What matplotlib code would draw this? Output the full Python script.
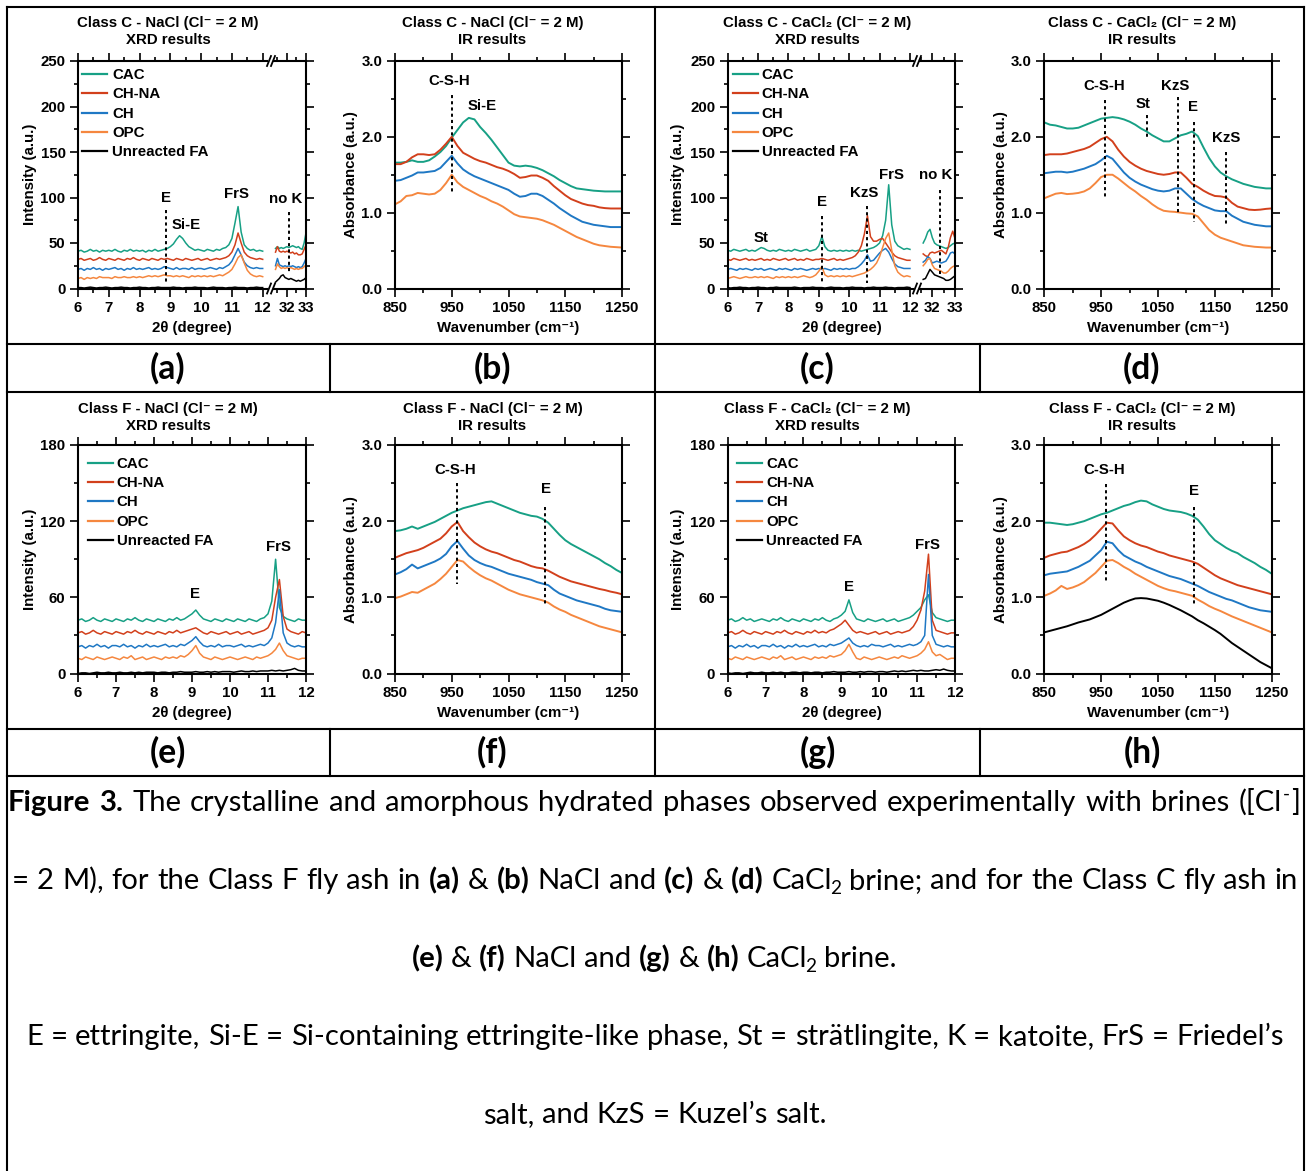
import numpy as np
import matplotlib
matplotlib.use('Agg')
import matplotlib.pyplot as plt
from matplotlib.lines import Line2D
from matplotlib.ticker import MultipleLocator, FormatStrFormatter

# ======================= DATA =======================
SERIES = ['CAC', 'CH-NA', 'CH', 'OPC', 'Unreacted FA']
COLORS = {'CAC': '#17a085', 'CH-NA': '#d2401c', 'CH': '#1f78c4',
          'OPC': '#f5873f', 'Unreacted FA': '#000000'}

XRD_X = np.round(np.linspace(6.0, 12.0, 61), 2)
XRD_XR_A = np.round(np.linspace(31.4, 33.0, 17), 2)
XRD_XR_C = np.round(np.linspace(31.6, 33.0, 15), 2)
IR_X = np.arange(850, 1251, 10)

# (a) Class C - NaCl XRD
A_CAC = [41,42,40,41,43,41,42,40,42,41, 42,41,43,41,40,42,41,43,41,42,
         41,42,40,42,41,43,41,42,43,44, 46,49,54,58,55,50,46,44,42,43,
         42,41,43,42,41,43,42,44,45,48, 55,72,90,62,48,44,42,43,41,42, 41]
A_CHNA = [32,33,31,32,33,31,32,34,32,31, 33,32,31,33,32,31,33,32,34,32,
          31,33,32,31,33,32,31,33,32,33, 32,31,33,32,31,33,32,31,32,33,
          31,32,33,31,32,33,32,33,34,36, 40,48,61,50,40,36,34,33,32,33, 32]
A_CH = [21,22,20,22,21,23,21,22,20,22, 21,22,23,21,22,20,22,21,23,21,
        22,21,22,23,21,22,21,22,24,23, 22,21,23,21,22,22,21,23,21,22,
        22,21,22,23,22,21,23,22,24,26, 30,37,44,37,29,25,23,22,23,22, 22]
A_OPC = [11,12,10,12,11,12,11,13,12,12, 12,11,13,12,12,13,12,12,13,12,
         13,12,13,14,13,14,13,14,15,14, 14,13,14,13,14,13,12,14,13,14,
         13,14,13,14,13,14,15,14,16,18, 21,27,34,37,28,20,16,14,13,14, 13]
A_FA = [1,1,0.5,1,1.5,1,0.5,1,1,1.5, 1,0.5,1,1,1.5,1,1,0.5,1,1,
        1.5,1,1,0.5,1,1,1.5,1,1,1, 1,1.5,1,1,0.5,1,1,1,1.5,1,
        1,1,0.5,1,1.5,1,1,1,0.5,1, 1,1.5,1,1,1,0.5,1,1,1.5,1, 1]
AR_CAC = [44,46,44,45,44,45,46,45,46,47,46,45,46,44,43,50,61]
AR_CHNA = [40,46,41,40,41,40,41,40,39,40,38,39,37,37,38,43,48]
AR_CH = [25,33,26,25,24,25,24,25,24,25,24,23,24,23,24,28,33]
AR_OPC = [21,27,24,22,23,22,23,22,23,22,21,22,21,22,22,24,26]
AR_FA = [7,9,11,14,15,12,11,10,11,10,9,8,9,8,9,10,12]

# (c) Class C - CaCl2 XRD
C_CAC = [42,41,43,42,41,42,43,41,42,41, 43,45,44,42,41,42,41,43,42,41,
         42,41,43,42,41,42,43,41,42,43, 47,57,46,42,41,42,41,42,41,42,
         41,42,41,42,41,42,43,44,45,47, 50,58,75,114,70,52,47,45,43,44, 43]
C_CHNA = [32,31,33,32,31,32,33,31,32,31, 32,33,31,32,31,33,32,31,32,33,
          31,32,33,31,32,31,33,32,31,32, 32,33,32,31,32,33,31,32,31,32,
          33,34,36,40,47,60,80,57,52,52, 54,55,50,45,40,36,34,33,32,31, 31]
C_CH = [21,22,21,20,22,21,22,21,20,22, 21,22,20,21,22,21,20,22,21,22,
        21,20,22,21,22,21,20,21,22,21, 22,21,22,21,20,22,21,22,21,22,
        21,22,22,24,27,31,37,30,31,35, 39,42,44,40,33,27,24,23,22,22, 22]
C_OPC = [11,12,13,12,11,12,13,12,12,13, 12,13,12,13,12,11,13,12,13,12,
         13,12,13,12,13,14,13,12,13,15, 19,24,15,13,14,13,14,13,14,13,
         14,13,14,15,16,17,19,21,24,28, 35,45,55,61,42,25,18,15,13,14, 13]
C_FA = [1,0.5,1,1,1.5,1,1,0.5,1,1, 1.5,1,1,0.5,1,1,1.5,1,1,1,
        1,1,1.5,1,0.5,1,1,1,1.5,1, 1,1,0.5,1,1.5,1,1,1,0.5,1,
        1,1.5,1,1,1,0.5,1,1,1.5,1, 1,1,1.5,1,1,0.5,1,1,1,1.5, 1]
CR_CAC = [50,55,62,65,56,50,48,47,46,45,44,45,47,49,50]
CR_CHNA = [38,36,35,39,40,39,40,41,42,40,38,45,56,63,55]
CR_CH = [29,31,35,33,28,29,30,29,28,29,30,34,39,40,38]
CR_OPC = [25,28,32,33,26,22,21,20,19,17,17,19,22,24,25]
CR_FA = [10,11,16,21,18,15,14,13,12,11,9,9,10,12,14]

# (e) Class F - NaCl XRD
E_CAC = [42,43,41,42,44,42,41,43,42,41, 43,42,41,43,42,44,42,41,43,42,
         41,43,42,41,43,42,44,42,43,45, 47,50,46,43,42,41,43,42,41,43,
         42,41,43,42,41,43,42,41,43,44, 47,57,90,52,45,43,42,41,43,42, 42]
E_CHNA = [32,33,31,32,34,32,31,33,32,31, 33,32,31,33,32,34,32,31,33,32,
          31,33,32,31,33,32,34,32,33,34, 35,36,34,32,31,33,32,31,32,33,
          31,32,33,31,32,33,31,32,33,34, 36,42,60,74,45,35,33,32,31,33, 32]
E_CH = [21,22,20,22,21,23,21,22,20,22, 22,21,23,21,22,20,22,21,23,21,
        22,21,22,23,21,22,21,23,22,24, 26,29,25,22,21,22,21,23,21,22,
        22,21,22,23,21,22,21,22,23,22, 24,28,40,66,32,24,22,21,22,21, 21]
E_OPC = [12,11,13,12,11,13,12,11,12,13, 12,11,13,12,14,11,12,13,11,12,
         13,12,11,13,12,13,12,14,13,15, 18,22,16,13,12,11,13,12,11,12,
         13,12,11,12,13,12,11,13,12,13, 14,16,19,24,18,14,13,12,11,12, 12]
E_FA = [0,0.5,0.5,0,0.5,1,0.5,0.5,1,0.5, 0.5,1,0.5,0.5,1,0.5,1,0.5,1,1,
        1,0.5,1,1,0.5,1,1,1.5,1,1, 1,1.5,1,1,1.5,1,1.5,1,1.5,1.5,
        1.5,1,1.5,2,1.5,1.5,2,1.5,2,2, 2,2.5,2,2.5,2,2.5,3,4,2.5,2, 2]

# (g) Class F - CaCl2 XRD
G_CAC = [42,43,41,42,44,42,43,41,42,43, 42,41,43,42,44,42,41,43,42,41,
         43,42,41,43,42,44,42,41,43,44, 46,49,58,48,43,42,41,43,42,41,
         42,43,41,42,43,41,42,43,44,46, 49,52,58,62,48,44,43,42,41,42, 42]
G_CHNA = [32,33,31,32,34,32,31,33,32,31, 33,32,31,33,32,34,32,31,33,32,
          31,33,32,34,32,33,32,34,35,37, 39,42,38,34,32,33,32,31,32,33,
          31,32,33,31,32,33,32,33,34,37, 42,50,65,94,42,34,33,32,31,32, 32]
G_CH = [21,22,20,22,21,23,21,22,20,22, 22,21,23,21,22,20,22,21,23,21,
        22,21,22,23,21,22,21,23,22,23, 24,26,28,24,22,21,22,21,23,22,
        22,21,22,23,21,22,21,22,23,22, 23,25,30,78,30,23,22,21,22,21, 21]
G_OPC = [12,11,13,12,11,13,12,11,12,13, 12,11,13,12,14,11,12,13,11,12,
         13,12,11,13,12,13,12,14,13,14, 15,18,23,17,12,11,13,12,11,12,
         13,12,11,12,13,12,14,13,12,13, 14,16,19,25,17,14,15,13,11,12, 12]
G_FA = [0.5,0,0.5,0.5,0,0.5,1,0.5,0.5,1, 0.5,0.5,1,0.5,1,0.5,0.5,1,1,0.5,
        1,1,0.5,1,1,0.5,1,1,1.5,1, 1,1,1.5,1,1,1.5,1,1.5,1.5,1,
        1.5,1.5,1,1.5,2,1.5,2,1.5,2,2.5, 2,2.5,2,2,2.5,3,2.5,3.5,2.5,2, 2]

# IR spectra (850-1250 cm-1)
B_CAC = [1.66,1.66,1.67,1.69,1.67,1.67,1.69,1.74,1.80,1.88, 1.99,2.09,2.19,2.25,2.23,2.13,2.05,1.96,1.86,1.76,
         1.66,1.62,1.61,1.62,1.61,1.59,1.56,1.52,1.48,1.43, 1.39,1.35,1.32,1.31,1.30,1.29,1.285,1.28,1.28,1.28, 1.28]
B_CHNA = [1.64,1.64,1.67,1.73,1.77,1.77,1.76,1.77,1.83,1.91, 2.00,1.88,1.79,1.75,1.71,1.68,1.66,1.63,1.60,1.58,
          1.55,1.51,1.46,1.47,1.49,1.49,1.46,1.42,1.35,1.29, 1.23,1.18,1.15,1.12,1.10,1.09,1.07,1.06,1.055,1.055, 1.055]
B_CH = [1.42,1.43,1.46,1.49,1.53,1.53,1.54,1.55,1.59,1.67, 1.75,1.65,1.57,1.52,1.48,1.45,1.42,1.39,1.36,1.33,
        1.30,1.25,1.21,1.22,1.25,1.25,1.22,1.17,1.12,1.06, 1.01,0.96,0.92,0.88,0.86,0.84,0.83,0.82,0.81,0.81, 0.81]
B_OPC = [1.11,1.15,1.22,1.23,1.26,1.25,1.24,1.25,1.30,1.39, 1.50,1.40,1.34,1.30,1.26,1.22,1.19,1.15,1.12,1.08,
         1.03,0.98,0.95,0.94,0.93,0.92,0.90,0.87,0.84,0.80, 0.76,0.72,0.68,0.65,0.62,0.59,0.57,0.56,0.55,0.545, 0.54]

D_CAC = [2.19,2.16,2.15,2.13,2.11,2.11,2.12,2.15,2.18,2.21, 2.24,2.25,2.26,2.25,2.23,2.20,2.16,2.11,2.07,2.02,
         1.98,1.94,1.94,1.98,2.02,2.04,2.07,2.01,1.86,1.72, 1.61,1.53,1.48,1.44,1.41,1.38,1.36,1.34,1.33,1.32, 1.32]
D_CHNA = [1.76,1.77,1.77,1.77,1.78,1.80,1.82,1.84,1.87,1.92, 1.97,2.00,1.94,1.83,1.74,1.67,1.62,1.58,1.55,1.53,
          1.51,1.50,1.51,1.53,1.53,1.46,1.38,1.34,1.29,1.25, 1.22,1.215,1.20,1.13,1.08,1.06,1.04,1.035,1.04,1.05, 1.056]
D_CH = [1.52,1.53,1.54,1.54,1.53,1.54,1.56,1.58,1.61,1.64, 1.69,1.75,1.71,1.62,1.53,1.46,1.41,1.37,1.34,1.31,
        1.29,1.28,1.29,1.32,1.32,1.25,1.18,1.13,1.09,1.06, 1.03,1.02,1.02,0.96,0.92,0.88,0.86,0.84,0.83,0.82, 0.82]
D_OPC = [1.19,1.22,1.25,1.26,1.245,1.25,1.26,1.28,1.32,1.39, 1.47,1.50,1.50,1.45,1.39,1.33,1.28,1.22,1.17,1.11,
         1.06,1.025,1.015,1.01,1.00,0.99,0.985,0.95,0.86,0.77, 0.71,0.67,0.645,0.62,0.595,0.57,0.56,0.55,0.545,0.54, 0.54]

F_CAC = [1.87,1.88,1.90,1.93,1.90,1.93,1.96,1.99,2.03,2.07, 2.11,2.14,2.17,2.19,2.21,2.23,2.25,2.26,2.23,2.20,
         2.17,2.14,2.11,2.09,2.07,2.06,2.03,1.98,1.90,1.82, 1.75,1.70,1.66,1.62,1.58,1.54,1.50,1.45,1.41,1.36, 1.32]
F_CHNA = [1.52,1.55,1.58,1.60,1.62,1.65,1.69,1.73,1.77,1.84, 1.93,1.99,1.87,1.79,1.72,1.67,1.63,1.60,1.58,1.55,
          1.52,1.49,1.47,1.44,1.41,1.39,1.38,1.35,1.31,1.27, 1.24,1.21,1.19,1.17,1.15,1.13,1.11,1.095,1.075,1.06, 1.04]
F_CH = [1.30,1.33,1.37,1.43,1.38,1.41,1.44,1.47,1.51,1.57, 1.67,1.74,1.64,1.55,1.49,1.45,1.42,1.40,1.37,1.34,
        1.31,1.29,1.27,1.25,1.23,1.20,1.18,1.16,1.10,1.05, 1.02,0.99,0.96,0.94,0.92,0.90,0.88,0.85,0.83,0.82, 0.81]
F_OPC = [0.99,1.01,1.04,1.07,1.06,1.10,1.14,1.18,1.24,1.31, 1.40,1.49,1.47,1.40,1.34,1.29,1.25,1.22,1.18,1.14,
         1.10,1.07,1.04,1.02,1.00,0.98,0.96,0.93,0.88,0.84, 0.81,0.77,0.74,0.71,0.68,0.65,0.62,0.60,0.58,0.56, 0.54]

H_CAC = [1.98,1.98,1.97,1.96,1.95,1.96,1.98,2.00,2.03,2.06, 2.09,2.11,2.14,2.17,2.20,2.22,2.25,2.27,2.26,2.22,
         2.19,2.16,2.14,2.13,2.12,2.10,2.07,2.02,1.93,1.83, 1.75,1.70,1.65,1.61,1.58,1.53,1.49,1.45,1.40,1.36, 1.31]
H_CHNA = [1.52,1.55,1.57,1.59,1.60,1.63,1.66,1.70,1.75,1.82, 1.90,1.98,1.97,1.88,1.80,1.75,1.71,1.68,1.66,1.63,
          1.60,1.58,1.55,1.53,1.51,1.49,1.47,1.44,1.39,1.34, 1.29,1.25,1.22,1.19,1.16,1.14,1.12,1.10,1.08,1.06, 1.04]
H_CH = [1.29,1.31,1.32,1.33,1.34,1.37,1.40,1.44,1.48,1.55, 1.62,1.73,1.71,1.62,1.55,1.51,1.47,1.44,1.40,1.37,
        1.34,1.31,1.28,1.26,1.24,1.21,1.18,1.15,1.11,1.07, 1.04,1.01,0.98,0.96,0.93,0.90,0.87,0.85,0.83,0.82, 0.81]
H_OPC = [1.02,1.05,1.09,1.15,1.11,1.13,1.16,1.20,1.26,1.32, 1.40,1.48,1.49,1.45,1.40,1.36,1.31,1.27,1.23,1.19,
         1.15,1.12,1.095,1.08,1.06,1.04,1.02,0.97,0.93,0.885, 0.85,0.82,0.785,0.75,0.72,0.69,0.66,0.63,0.60,0.57, 0.54]
H_FA = [0.54,0.56,0.58,0.60,0.62,0.645,0.67,0.69,0.71,0.74, 0.77,0.81,0.85,0.89,0.93,0.96,0.985,0.99,0.985,0.97,
        0.955,0.93,0.90,0.865,0.83,0.79,0.75,0.70,0.66,0.615, 0.57,0.52,0.46,0.40,0.35,0.30,0.25,0.20,0.15,0.11, 0.07]

TITLES = [('Class C - NaCl (Cl⁻ = 2 M)', 'XRD results'), ('Class C - NaCl (Cl⁻ = 2 M)', 'IR results'),
          ('Class C - CaCl₂ (Cl⁻ = 2 M)', 'XRD results'), ('Class C - CaCl₂ (Cl⁻ = 2 M)', 'IR results'),
          ('Class F - NaCl (Cl⁻ = 2 M)', 'XRD results'), ('Class F - NaCl (Cl⁻ = 2 M)', 'IR results'),
          ('Class F - CaCl₂ (Cl⁻ = 2 M)', 'XRD results'), ('Class F - CaCl₂ (Cl⁻ = 2 M)', 'IR results')]
PANEL_LABELS = ['(a)', '(b)', '(c)', '(d)', '(e)', '(f)', '(g)', '(h)']

CAPTION_LINES = [
    [('Figure 3.', 'b'), (' The crystalline and amorphous hydrated phases observed experimentally with brines ([Cl', 'r'), ('-', 'sup'), (']', 'r')],
    [('= 2 M), for the Class F fly ash in ', 'r'), ('(a)', 'b'), (' & ', 'r'), ('(b)', 'b'), (' NaCl and ', 'r'), ('(c)', 'b'),
     (' & ', 'r'), ('(d)', 'b'), (' CaCl', 'r'), ('2', 'sub'), (' brine; and for the Class C fly ash in', 'r')],
    [('(e)', 'b'), (' & ', 'r'), ('(f)', 'b'), (' NaCl and ', 'r'), ('(g)', 'b'), (' & ', 'r'), ('(h)', 'b'), (' CaCl', 'r'), ('2', 'sub'), (' brine.', 'r')],
    [('E = ettringite, Si-E = Si-containing ettringite-like phase, St = strätlingite, K = katoite, FrS = Friedel’s', 'r')],
    [('salt, and KzS = Kuzel’s salt.', 'r')],
]

# ======================= LAYOUT / STYLE =======================
W, H = 1307, 1171
plt.rcParams['font.family'] = ['Liberation Sans', 'DejaVu Sans']
plt.rcParams['font.weight'] = 'bold'
plt.rcParams['axes.labelweight'] = 'bold'
FS = 10.8
CAP_FAMILY = ['Lato', 'DejaVu Sans']

fig = plt.figure(figsize=(W / 100, H / 100), dpi=100)
fig.patch.set_facecolor('white')


def fx(x):
    return x / W


def fy(y):
    return 1 - y / H


def fbox(x0, y0, x1, y1):
    return [x0 / W, 1 - y1 / H, (x1 - x0) / W, (y1 - y0) / H]


def style_ax(ax, xmaj, xmin, ymaj, ymin, yleft=True, yright=True, ifmt=None, xoff=0.0):
    ax.xaxis.set_major_locator(MultipleLocator(xmaj, offset=xoff))
    ax.xaxis.set_minor_locator(MultipleLocator(xmin))
    ax.yaxis.set_major_locator(MultipleLocator(ymaj))
    ax.yaxis.set_minor_locator(MultipleLocator(ymin))
    if ifmt:
        ax.yaxis.set_major_formatter(FormatStrFormatter(ifmt))
    for s in ax.spines.values():
        s.set_linewidth(1.5)
    ax.tick_params(which='both', direction='out', top=True, bottom=True, left=yleft, right=yright,
                   labelleft=yleft, labelright=False, labeltop=False, width=1.2, labelsize=FS)
    ax.tick_params(which='major', length=6.0, pad=3)
    ax.tick_params(which='minor', length=3.2)


def dashed(ax, x, y0, y1):
    ax.plot([x, x], [y0, y1], color='k', lw=1.4, ls=(0, (1.6, 1.6)), clip_on=False)


def label(ax, x, y, s):
    ax.text(x, y, s, ha='center', va='center', fontsize=FS, fontweight='bold', clip_on=False)


def legend(left, top, dh0, dh1, dt, dy0, step=19.3):
    for i, name in enumerate(SERIES):
        y = top + dy0 + i * step
        fig.add_artist(Line2D([fx(left + dh0), fx(left + dh1)], [fy(y), fy(y)], color=COLORS[name], lw=1.6))
        fig.text(fx(left + dt), fy(y + 1), name, fontsize=FS, fontweight='bold', ha='left', va='center')


def break_marks(xg, ytop, ybot):
    for yy in (ytop, ybot):
        for xs in (xg - 3.5, xg + 0.5):
            fig.add_artist(Line2D([fx(xs), fx(xs + 4)], [fy(yy + 5), fy(yy - 5)], color='k', lw=1.3))


def xrd_broken(xL0, xL1, xR0, xR1, y0, y1, xlimL, xlimR, left_data, xr, right_data):
    axL = fig.add_axes(fbox(xL0, y0, xL1, y1))
    axR = fig.add_axes(fbox(xR0, y0, xR1, y1))
    for name, yv in zip(SERIES, left_data):
        axL.plot(XRD_X, yv, color=COLORS[name], lw=1.1)
    for name, yv in zip(SERIES, right_data):
        axR.plot(xr, yv, color=COLORS[name], lw=1.1)
    axL.set_xlim(*xlimL); axR.set_xlim(*xlimR)
    axL.set_ylim(0, 250); axR.set_ylim(0, 250)
    style_ax(axL, 1, 0.5, 50, 25, yleft=True, yright=False)
    style_ax(axR, 1, 0.5, 50, 25, yleft=False, yright=True)
    axL.spines['right'].set_visible(False)
    axR.spines['left'].set_visible(False)
    break_marks((xL1 + xR0) / 2, y0, y1)
    return axL, axR


def xrd_single(x0, x1, y0, y1, data):
    ax = fig.add_axes(fbox(x0, y0, x1, y1))
    for name, yv in zip(SERIES, data):
        ax.plot(XRD_X, yv, color=COLORS[name], lw=1.1)
    ax.set_xlim(6, 12); ax.set_ylim(0, 180)
    style_ax(ax, 1, 0.5, 60, 30)
    return ax


def ir_axes(x0, x1, y0, y1, data, names):
    ax = fig.add_axes(fbox(x0, y0, x1, y1))
    for name, yv in zip(names, data):
        ax.plot(IR_X, yv, color=COLORS[name], lw=1.4)
    ax.set_xlim(850, 1250); ax.set_ylim(0, 3)
    style_ax(ax, 100, 50, 1.0, 0.5, ifmt='%.1f', xoff=50)
    return ax


def set_labels(ax, xlab, ylab, xl_px, xc_px, yl_center_px, ax_left, ax_w, ax_top, ax_h):
    ax.set_xlabel(xlab, fontsize=FS, va='center')
    ax.xaxis.set_label_coords((xc_px - ax_left) / ax_w, (ax_top + ax_h - yl_center_px) / ax_h)
    ax.set_ylabel(ylab, fontsize=FS, va='center')
    ax.yaxis.set_label_coords((xl_px - ax_left) / ax_w, 0.5)


# ---- row 1 ----
R1T, R1B = 61, 288.5
R2T, R2B = 445, 673.5

axA, axAR = xrd_broken(78, 267, 274, 306, R1T, R1B, (6, 12.14), (31.32, 33),
                       [A_CAC, A_CHNA, A_CH, A_OPC, A_FA], XRD_XR_A, [AR_CAC, AR_CHNA, AR_CH, AR_OPC, AR_FA])
set_labels(axA, '2θ (degree)', 'Intensity (a.u.)', 30, 192, 328, 78, 189, R1T, R1B - R1T)
label(axA, 8.85, 100, 'E'); dashed(axA, 8.85, 86, 5)
label(axA, 9.5, 70, 'Si-E'); label(axA, 11.15, 104, 'FrS')
label(axAR, 31.95, 98, 'no K'); dashed(axAR, 32.09, 84, 16)
legend(78, R1T, 4, 29, 34, 13)

axB = ir_axes(395, 622, R1T, R1B, [B_CAC, B_CHNA, B_CH, B_OPC], SERIES[:4])
set_labels(axB, 'Wavenumber (cm⁻¹)', 'Absorbance (a.u.)', 351, 508.5, 328, 395, 227, R1T, R1B - R1T)
label(axB, 946, 2.73, 'C-S-H'); dashed(axB, 951, 2.55, 1.25); label(axB, 1003, 2.4, 'Si-E')

axC, axCR = xrd_broken(727.7, 913, 920, 955, R1T, R1B, (6, 12.1), (31.46, 33),
                       [C_CAC, C_CHNA, C_CH, C_OPC, C_FA], XRD_XR_C, [CR_CAC, CR_CHNA, CR_CH, CR_OPC, CR_FA])
set_labels(axC, '2θ (degree)', 'Intensity (a.u.)', 678, 841.5, 328, 727.7, 913 - 727.7, R1T, R1B - R1T)
label(axC, 7.1, 56, 'St')
label(axC, 9.12, 95, 'E'); dashed(axC, 9.1, 80, 5.5)
label(axC, 10.5, 105, 'KzS'); dashed(axC, 10.6, 91, 5.5)
label(axC, 11.4, 125, 'FrS')
label(axCR, 32.15, 125, 'no K'); dashed(axCR, 32.34, 108, 16)
legend(727.7, R1T, 5.5, 30.5, 34, 13)

axD = ir_axes(1044.3, 1271.7, R1T, R1B, [D_CAC, D_CHNA, D_CH, D_OPC], SERIES[:4])
set_labels(axD, 'Wavenumber (cm⁻¹)', 'Absorbance (a.u.)', 1000.7, 1158, 328, 1044.3, 227.4, R1T, R1B - R1T)
label(axD, 956, 2.67, 'C-S-H'); dashed(axD, 957, 2.49, 1.19)
label(axD, 1024, 2.43, 'St'); dashed(axD, 1030, 2.29, 2.0)
label(axD, 1081, 2.67, 'KzS'); dashed(axD, 1086, 2.52, 0.99)
label(axD, 1112, 2.39, 'E'); dashed(axD, 1113, 2.2, 0.88)
label(axD, 1170, 1.99, 'KzS'); dashed(axD, 1169, 1.8, 0.84)

# ---- row 2 ----
axE = xrd_single(78, 306, R2T, R2B, [E_CAC, E_CHNA, E_CH, E_OPC, E_FA])
set_labels(axE, '2θ (degree)', 'Intensity (a.u.)', 30, 192, 712.7, 78, 228, R2T, R2B - R2T)
label(axE, 9.09, 63, 'E'); label(axE, 11.27, 100, 'FrS')
legend(78, R2T, 10, 35, 38.7, 17.7)

axF = ir_axes(395, 622, R2T, R2B, [F_CAC, F_CHNA, F_CH, F_OPC], SERIES[:4])
set_labels(axF, 'Wavenumber (cm⁻¹)', 'Absorbance (a.u.)', 351, 508.5, 712.7, 395, 227, R2T, R2B - R2T)
label(axF, 955.6, 2.67, 'C-S-H'); dashed(axF, 958.5, 2.5, 1.18)
label(axF, 1115.7, 2.42, 'E'); dashed(axF, 1114, 2.19, 0.88)

axG = xrd_single(727.7, 955, R2T, R2B, [G_CAC, G_CHNA, G_CH, G_OPC, G_FA])
set_labels(axG, '2θ (degree)', 'Intensity (a.u.)', 678, 841.5, 712.7, 727.7, 227.3, R2T, R2B - R2T)
label(axG, 9.21, 68, 'E'); label(axG, 11.27, 101, 'FrS')
legend(727.7, R2T, 9, 34, 38.3, 17.7)

axH = ir_axes(1044.3, 1271.7, R2T, R2B, [H_CAC, H_CHNA, H_CH, H_OPC, H_FA], SERIES)
set_labels(axH, 'Wavenumber (cm⁻¹)', 'Absorbance (a.u.)', 1000.7, 1158, 712.7, 1044.3, 227.4, R2T, R2B - R2T)
label(axH, 955, 2.67, 'C-S-H'); dashed(axH, 958, 2.49, 1.19)
label(axH, 1113, 2.39, 'E'); dashed(axH, 1113, 2.19, 0.88)

# ---- titles ----
CELL_CX = [168, 492.5, 817.5, 1142]
for i, (t1, t2) in enumerate(TITLES):
    cx = CELL_CX[i % 4]
    ya, yb = (23.5, 40.5) if i < 4 else (409, 425.5)
    fig.text(fx(cx), fy(ya), t1, fontsize=FS, fontweight='bold', ha='center', va='center')
    fig.text(fx(cx), fy(yb), t2, fontsize=FS, fontweight='bold', ha='center', va='center')

# ---- table lines ----
TLW = 1.5


def hline(y, x0, x1):
    fig.add_artist(Line2D([fx(x0), fx(x1)], [fy(y), fy(y)], color='k', lw=TLW, solid_capstyle='projecting'))


def vline(x, y0, y1):
    fig.add_artist(Line2D([fx(x), fx(x)], [fy(y0), fy(y1)], color='k', lw=TLW, solid_capstyle='projecting'))


for yy in (6.5, 344, 391.5, 729, 776):
    hline(yy, 6.5, 1304)
vline(6.5, 6.5, 1171)
vline(1304, 6.5, 1171)
vline(655, 6.5, 776)
for xx in (330, 980):
    vline(xx, 344, 391.5)
    vline(xx, 729, 776)

# ---- caption ----
renderer = fig.canvas.get_renderer()


def measure(s, size, weight):
    t = fig.text(0, 0, s, fontsize=size, fontweight=weight, family=CAP_FAMILY)
    w = t.get_window_extent(renderer=renderer).width
    t.remove()
    return w


def props(st, fs):
    fpx = fs * 100 / 72
    if st == 'b':
        return fs, 'bold', 0.0
    if st == 'sub':
        return fs * 0.65, 'normal', -0.17 * fpx
    if st == 'sup':
        return fs * 0.65, 'normal', 0.40 * fpx
    return fs, 'normal', 0.0


def piece_gap(st, fs):
    fpx = fs * 100 / 72
    if st == 'sub':
        return -0.07 * fpx
    return 0.04 * fpx


def words_of(pieces):
    words = [[]]
    for text, st in pieces:
        parts = text.split(' ')
        for k, part in enumerate(parts):
            if k > 0:
                words.append([])
            if part:
                words[-1].append((part, st))
    return [w for w in words if w]


def word_width(word, fs):
    tot = 0
    for k, (t, st) in enumerate(word):
        size, wt, _ = props(st, fs)
        tot += measure(t, size, wt) + (piece_gap(st, fs) if k > 0 else 0)
    return tot


def space_gap(fs):
    return measure('n n', fs, 'normal') - 2 * measure('n', fs, 'normal')


def draw_line(pieces, fs, mode, a, b, baseline):
    words = words_of(pieces)
    widths = [word_width(w, fs) for w in words]
    if mode == 'justify' and len(words) > 1:
        g = (b - a - sum(widths)) / (len(words) - 1)
        x = a
    else:
        g = space_gap(fs)
        total = sum(widths) + g * (len(words) - 1)
        x = a - total / 2
    for w, ww in zip(words, widths):
        xx = x
        for k, (t, st) in enumerate(w):
            size, wt, dy = props(st, fs)
            if k > 0:
                xx += piece_gap(st, fs)
            fig.text(fx(xx), fy(baseline - dy), t, fontsize=size, fontweight=wt, family=CAP_FAMILY,
                     ha='left', va='baseline')
            xx += measure(t, size, wt)
        x += ww + g


# fit caption size so the centred 4th line spans ~1260 px
fs0 = 20.0
nat = sum(word_width(w, fs0) for w in words_of(CAPTION_LINES[3]))
nat += space_gap(fs0) * (len(words_of(CAPTION_LINES[3])) - 1)
CAP_FS = fs0 * 1260 / nat

CAP_LAYOUT = [('justify', 8, 1300, 811), ('justify', 12, 1298, 889), ('center', 654, None, 967),
              ('center', 655, None, 1045), ('center', 655, None, 1123)]
for pieces, (mode, a, b, base) in zip(CAPTION_LINES, CAP_LAYOUT):
    draw_line(pieces, CAP_FS, mode, a, b, base)

# panel labels
for i, lab in enumerate(PANEL_LABELS):
    cx = CELL_CX[i % 4]
    cy = 368 if i < 4 else 752.5
    fig.text(fx(cx), fy(cy), lab, fontsize=CAP_FS * 1.15, fontweight='bold', family=CAP_FAMILY,
             ha='center', va='center')

fig.savefig('out.png', dpi=100, facecolor='white')
